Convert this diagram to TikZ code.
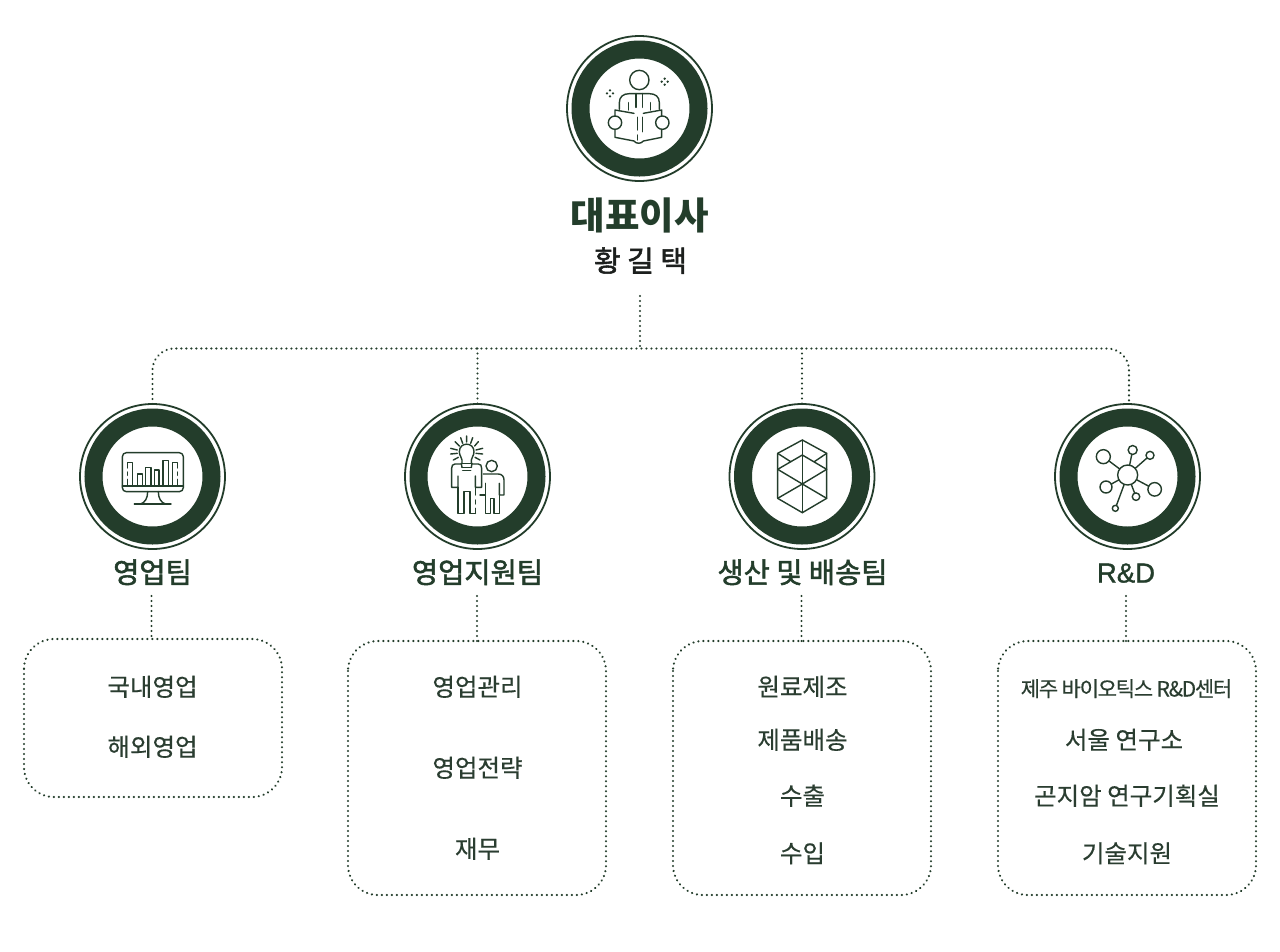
\documentclass[tikz,border=0pt]{standalone}
\usepackage{fontspec}
\usetikzlibrary{decorations.markings}
\setmainfont{Noto Sans CJK KR}
\newfontfamily\krr{Noto Sans CJK KR}[FakeBold=0.35]
\newfontfamily\krb{Noto Sans CJK KR}
\newfontfamily\krm{Noto Sans CJK KR}[FakeBold=1.8]
\newfontfamily\krt{Noto Sans CJK KR}[FakeBold=0.3,LetterSpace=-6]
\newfontfamily\latm{Liberation Sans}[FakeBold=1.2]
\definecolor{pine}{HTML}{233D2B}
\definecolor{listtxt}{HTML}{2A3D30}
\definecolor{nearblack}{HTML}{1C1F1D}
\tikzset{
  x=1pt,y=-1pt,
  dotline/.style={decorate,decoration={markings,mark=between positions 0 and 1 step 5pt with {\fill[pine] (0,0) circle[radius=1.2pt];}}},
  badge/.style={circle,draw=pine,line width=1.8pt,fill=white,minimum size=145pt,inner sep=0pt,outer sep=0pt},
  listbox/.style={dotline,rounded corners=30pt},
  ico/.style={draw=pine,line width=1.4pt,line join=round,line cap=round,fill=none},
  lbl/.style={anchor=base,inner sep=0pt,outer sep=0pt},
  listlbl/.style={lbl,text=listtxt,font=\krr\fontsize{24.5}{28}\selectfont},
  teamlbl/.style={lbl,text=pine,font=\krm\fontsize{28.5}{32}\selectfont},
  netn/.style={circle,draw=pine,line width=1.4pt,inner sep=0pt,outer sep=0pt},
  zoomed/.style={shift={(#1)},x=0.33333pt,y=-0.33333pt}
}
\newcommand{\badgeat}[3]{%
  \node[badge] (#1) at (#2,#3) {};
  \draw[pine,line width=18pt] (#2,#3) circle[radius=59pt];
}
\begin{document}
\begin{tikzpicture}
\useasboundingbox (0,0) rectangle (1280,951);
\fill[white] (0,0) rectangle (1280,951);

% tree connectors
\coordinate (trunk) at (640,296);
\coordinate (bus) at (640,348.5);
\coordinate (busL) at (152.5,404);
\coordinate (busR) at (1129,404);
\coordinate (dropB) at (477.5,348.5);
\coordinate (dropC) at (802,348.5);
\path[dotline] (trunk) -- (bus);
\path[dotline,rounded corners=22pt] (busL) |- (bus) -| (busR);
\path[dotline] (dropB) -- (477.5,404);
\path[dotline] (dropC) -- (802,404);

% badges
\badgeat{ceo}{639.5}{108.5}
\badgeat{sales}{152.5}{476.5}
\badgeat{support}{477.5}{476.5}
\badgeat{prod}{802}{476.5}
\badgeat{rnd}{1127.5}{476.5}

% reader icon
\begin{scope}[zoomed={560,30}]
  \draw[ico] (238,150) circle[radius=29];
  \draw[ico] (178,238) -- (178,218) .. controls (178,200) and (190,191) .. (208,191) -- (268,191) .. controls (286,191) and (298,200) .. (298,218) -- (298,238);
  \draw[ico] (205,218) -- (205,240) (271,218) -- (271,240);
  \draw[ico] (228,191) -- (228,232) (248,191) -- (248,232);
  \draw[ico] (165,258) -- (165,240) -- (222,250) (250,250) -- (305,240) -- (305,258);
  \draw[ico] (165,298) -- (165,322) -- (222,333) .. controls (228,342) and (244,342) .. (250,333) -- (305,322) -- (305,298);
  \draw[ico] (232,262) -- (232,300) (232,315) -- (232,330) (248,262) -- (248,305);
  \draw[ico] (165,278) circle[radius=20];
  \draw[ico] (307,278) circle[radius=20];
  \foreach \sx/\sy in {150/190,314/155}{
    \fill[pine] (\sx-9,\sy) circle[radius=1.3pt] (\sx+9,\sy) circle[radius=1.3pt] (\sx,\sy-9) circle[radius=1.3pt] (\sx,\sy+9) circle[radius=1.3pt];
  }
\end{scope}

% monitor icon
\begin{scope}[zoomed={75,400}]
  \draw[ico,rounded corners=4pt] (142,158) rectangle (325,275);
  \draw[ico] (142,258) -- (325,258);
  \draw[ico] (218,275) .. controls (218,295) and (210,308) .. (196,312);
  \draw[ico] (250,275) .. controls (250,295) and (258,308) .. (272,312);
  \draw[ico] (178,312) -- (288,312);
  \draw[ico] (188,258) -- (188,222) -- (202,222) -- (202,258);
  \draw[ico] (212,258) -- (212,202) -- (228,202) -- (228,258);
  \draw[ico] (238,258) -- (238,210) -- (252,210) -- (252,258);
  \draw[ico] (264,258) -- (264,182) -- (280,182) -- (280,258);
  \draw[ico] (158,258) -- (158,238) (158,226) -- (158,216) (158,204) -- (158,188) -- (172,188) -- (172,258);
  \draw[ico] (293,258) -- (293,188) -- (308,188) -- (308,204) (308,216) -- (308,226) (308,238) -- (308,258);
\end{scope}

% people icon
\begin{scope}[zoomed={400,400}]
  \draw[ico] (186,190) -- (186,180) .. controls (186,172) and (178,168) .. (178,155) .. controls (178,125) and (222,125) .. (222,155) .. controls (222,168) and (214,172) .. (214,180) -- (214,190);
  \draw[ico] (184,190) -- (216,190) (186,202) -- (214,202) (188,212) -- (212,212);
  \draw[ico] (184,190) -- (186,202) (216,190) -- (214,202);
  \draw[ico] (200,108) -- (200,126) (182,113) -- (188,130) (218,113) -- (212,130) (165,125) -- (178,138) (235,125) -- (224,138) (152,145) -- (172,150) (248,145) -- (228,150) (152,162) -- (172,160) (248,162) -- (228,160) (160,180) -- (175,172) (240,180) -- (225,172);
  \draw[ico] (182,192) -- (165,192) .. controls (158,192) and (155,197) .. (155,205) -- (155,262) -- (174,262) -- (174,228);
  \draw[ico] (174,262) -- (174,340) -- (192,340) -- (192,275) -- (210,275) -- (210,340) -- (226,340);
  \draw[ico] (218,192) -- (235,192) .. controls (242,192) and (245,197) .. (245,205) -- (245,262) -- (226,262) -- (226,228);
  \draw[ico] (226,262) -- (226,285) (226,300) -- (226,312) (226,325) -- (226,340);
  \draw[ico] (275,198) circle[radius=17];
  \draw[ico] (250,222) -- (295,222) .. controls (306,222) and (312,230) .. (312,240) -- (312,285) -- (298,285) -- (298,250);
  \draw[ico] (298,285) -- (298,340) -- (282,340) -- (282,295) -- (272,295) -- (272,340) -- (256,340) -- (256,250);
  \draw[ico] (240,285) -- (256,285);
\end{scope}

% hexagon icon
\begin{scope}[zoomed={725,400}]
  \draw[ico] (232,120) -- (305,160) -- (305,295) -- (232,338) -- (158,295) -- (158,160) -- cycle;
  \draw[ico] (232,120) -- (232,338);
  \draw[ico] (158,160) -- (197,185) (305,160) -- (268,185);
  \draw[ico] (158,208) -- (232,165) -- (305,208) -- (232,252) -- cycle;
  \draw[ico] (158,295) -- (232,252) -- (305,295);
\end{scope}

% network icon
\begin{scope}[zoomed={1050,400}]
  \node[netn,minimum size=20pt] (hub) at (233,225) {};
  \node[netn,minimum size=14pt] (n1) at (160,170) {};
  \node[netn,minimum size=9pt] (n2) at (248,150) {};
  \node[netn,minimum size=8pt] (n3) at (300,166) {};
  \node[netn,minimum size=12pt] (n4) at (168,261) {};
  \node[netn,minimum size=13.5pt] (n5) at (314,268) {};
  \node[netn,minimum size=7.5pt] (n6) at (258,290) {};
  \node[netn,minimum size=6pt] (n7) at (196,325) {};
  \foreach \n in {n1,n2,n3,n4,n5,n6,n7}{ \draw[ico] (hub) -- (\n); }
\end{scope}

% titles
\node[lbl,text=pine,font=\krb\bfseries\fontsize{37.5}{42}\selectfont] (title) at (639.5,229.5) {대표이사};
\node[lbl,text=nearblack,font=\krm\fontsize{29}{34}\selectfont] (name) at (640.5,271.5) {황 길 택};
\node[teamlbl] (tA) at (152.5,583) {영업팀};
\node[teamlbl] (tB) at (477.5,583) {영업지원팀};
\node[teamlbl] (tC) at (802.5,583) {생산 및 배송팀};
\node[teamlbl,font=\latm\fontsize{27.5}{32}\selectfont] (tD) at (1126,582.5) {R\&D};

% sub connectors
\coordinate (sA) at (151.5,596);
\coordinate (sB) at (477,596);
\coordinate (sC) at (801.5,596);
\coordinate (sD) at (1126,596);
\path[dotline] (sA) -- (151.5,639);
\path[dotline] (sB) -- (477,641);
\path[dotline] (sC) -- (801.5,641);
\path[dotline] (sD) -- (1126,641);

% boxes
\path[listbox] (24,639) rectangle (282,797);
\path[listbox] (348,641) rectangle (606,895);
\path[listbox] (673,641) rectangle (931,895);
\path[listbox] (998,641) rectangle (1256,895);

% list text
\node[listlbl] (a1) at (152.5,696) {국내영업};
\node[listlbl] (a2) at (152.5,756) {해외영업};
\node[listlbl] (b1) at (477.5,696) {영업관리};
\node[listlbl] (b2) at (477.5,777) {영업전략};
\node[listlbl] (b3) at (477.5,858) {재무};
\node[listlbl] (c1) at (802.5,696) {원료제조};
\node[listlbl] (c2) at (802.5,749) {제품배송};
\node[listlbl] (c3) at (802.5,805) {수출};
\node[listlbl] (c4) at (802.5,862.5) {수입};
\node[lbl,text=listtxt,font=\krt\fontsize{21}{25}\selectfont] (d1) at (1126.5,696.5) {제주 바이오틱스 R\&D센터};
\node[listlbl] (d2) at (1124,749) {서울 연구소};
\node[listlbl] (d3) at (1127,805) {곤지암 연구기획실};
\node[listlbl] (d4) at (1127,862.5) {기술지원};
\end{tikzpicture}
\end{document}
